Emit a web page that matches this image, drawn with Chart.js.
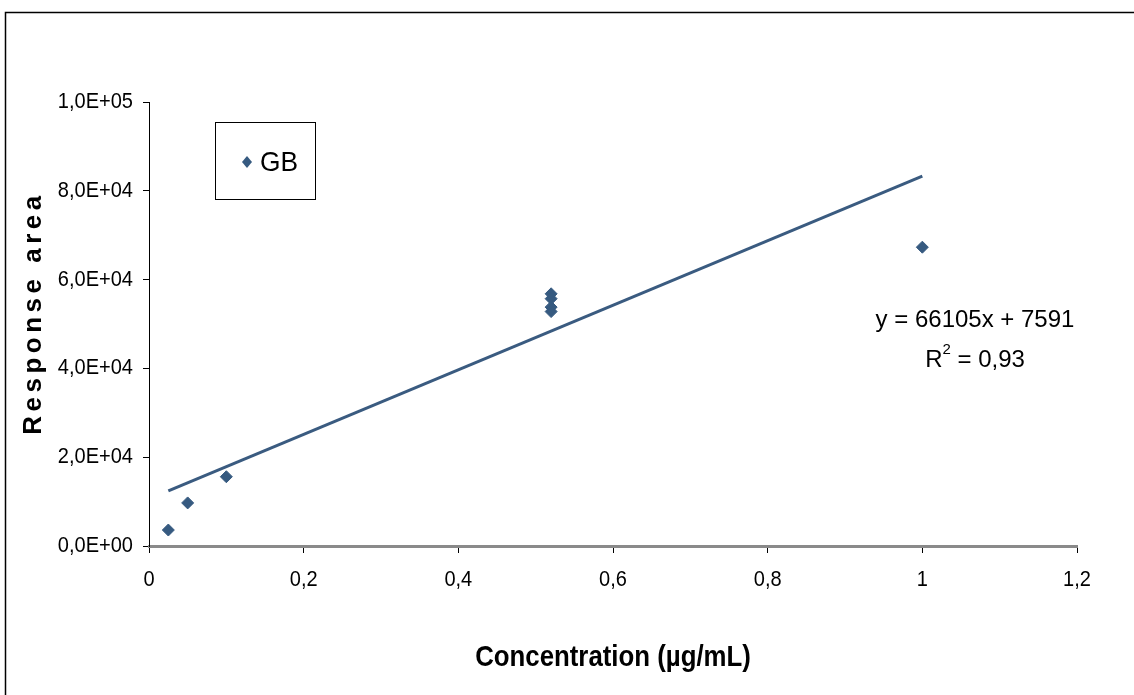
<!DOCTYPE html>
<html><head><meta charset="utf-8">
<script src="https://cdn.jsdelivr.net/npm/chart.js@4.4.1/dist/chart.umd.min.js"></script>
<style>html,body{margin:0;padding:0;background:#fff;overflow:hidden}
#wrap{width:1134px;height:695px;position:relative}</style>
</head><body><div id="wrap"><canvas id="c" width="1134" height="695"></canvas></div>
<script>
const concentration = [0.025, 0.05, 0.1, 0.52, 0.52, 0.52, 0.52, 1.0];
const responseArea = [3600, 9700, 15600, 56800, 55700, 53800, 52800, 67300];
const trendX = [0.025, 1.0];
const trendY = [12400, 83300];
const xTickLabels = ['0', '0,2', '0,4', '0,6', '0,8', '1', '1,2'];
const yTickLabels = ['0,0E+00', '2,0E+04', '4,0E+04', '6,0E+04', '8,0E+04', '1,0E+05'];
const seriesName = 'GB';
const equationText = 'y = 66105x + 7591';
const r2Value = '0,93';
const xTitle = 'Concentration (µg/mL)';
const yTitle = 'Response area';

const FONT = "'Liberation Sans', Arial, sans-serif";
const MARK = '#365a80';

// Arial-Narrow-like look: condense text horizontally about its anchor point
const condense = { '22px': 0.91, '30px': 0.86, '28px': 0.94 };
const origFill = CanvasRenderingContext2D.prototype.fillText;
CanvasRenderingContext2D.prototype.fillText = function (t, x, y, mw) {
  const m = /(\d+)px/.exec(this.font);
  const f = m && condense[m[1] + 'px'] ? condense[m[1] + 'px'] : 1;
  if (f === 1) return mw === undefined ? origFill.call(this, t, x, y) : origFill.call(this, t, x, y, mw);
  this.save(); this.translate(x, y); this.scale(f, 1);
  if (mw === undefined) origFill.call(this, t, 0, 0); else origFill.call(this, t, 0, 0, mw / f);
  this.restore();
};

const overlay = {
  id: 'overlay',
  afterDraw(chart) {
    const ctx = chart.ctx;
    ctx.save();
    // outer frame
    ctx.strokeStyle = '#000'; ctx.lineWidth = 1.5;
    ctx.beginPath(); ctx.moveTo(5.5, 695); ctx.lineTo(5.5, 12.5); ctx.lineTo(1134, 12.5); ctx.stroke();
    // legend
    ctx.lineWidth = 1;
    ctx.strokeRect(215.5, 122.5, 100, 77);
    ctx.fillStyle = MARK;
    ctx.beginPath();
    ctx.moveTo(247, 156); ctx.lineTo(252, 162); ctx.lineTo(247, 168); ctx.lineTo(242, 162); ctx.closePath();
    ctx.fill();
    ctx.fillStyle = '#000';
    ctx.font = "28px " + FONT; ctx.textBaseline = 'middle'; ctx.textAlign = 'left';
    ctx.fillText(seriesName, 260, 163);
    // trendline equation
    ctx.font = "24px " + FONT; ctx.textAlign = 'center';
    ctx.fillText(equationText, 975, 320);
    const rest = ' = ' + r2Value;
    const wR = ctx.measureText('R').width, wRest = ctx.measureText(rest).width;
    ctx.font = "15px " + FONT; const w2 = ctx.measureText('2').width;
    const total = wR + w2 + wRest; const x0 = 975 - total / 2;
    ctx.textAlign = 'left';
    ctx.font = "24px " + FONT; ctx.fillText('R', x0, 360);
    ctx.font = "15px " + FONT; ctx.fillText('2', x0 + wR, 350);
    ctx.font = "24px " + FONT; ctx.fillText(rest, x0 + wR + w2, 360);
    // y axis title
    ctx.translate(34, 315); ctx.rotate(-Math.PI / 2);
    ctx.font = "bold 26px " + FONT; ctx.textAlign = 'center';
    ctx.letterSpacing = '4.5px';
    ctx.fillText(yTitle, 2, 0);
    ctx.restore();
  }
};

new Chart(document.getElementById('c'), {
  type: 'scatter',
  data: {
    datasets: [
      { label: seriesName, data: concentration.map((x, i) => ({x, y: responseArea[i]})),
        pointStyle: 'rectRot', pointRadius: 6, pointHoverRadius: 6,
        backgroundColor: MARK, borderColor: MARK, borderWidth: 1, order: 1 },
      { label: 'trend', data: trendX.map((x, i) => ({x, y: trendY[i]})),
        showLine: true, pointRadius: 0, borderColor: '#3a5b80', borderWidth: 3, fill: false, order: 2 }
    ]
  },
  options: {
    responsive: false, animation: false, devicePixelRatio: 1,
    layout: { padding: { top: 102, right: 57, left: 0, bottom: 0 } },
    plugins: { legend: { display: false }, tooltip: { enabled: false } },
    scales: {
      x: {
        type: 'linear', min: 0, max: 1.2,
        afterFit: s => { s.height = 149; },
        ticks: { stepSize: 0.2, autoSkip: false, maxRotation: 0, padding: 14, color: '#000',
          font: { family: FONT, size: 22 }, callback: (v, i) => xTickLabels[i] },
        grid: { drawOnChartArea: false, drawTicks: true, tickLength: 7, color: '#000', lineWidth: 1 },
        border: { display: true, color: '#8a8a8a', width: 3 },
        title: { display: true, text: xTitle, color: '#000', padding: { top: 0, bottom: 19 },
          font: { family: FONT, size: 30, weight: 'bold' } }
      },
      y: {
        min: 0, max: 100000,
        afterFit: s => { s.width = 149; },
        ticks: { stepSize: 20000, padding: 10, color: '#000',
          font: { family: FONT, size: 22 }, callback: (v, i) => yTickLabels[i] },
        grid: { drawOnChartArea: false, drawTicks: true, tickLength: 6, color: '#000', lineWidth: 1 },
        border: { display: true, color: '#000', width: 1 }
      }
    }
  },
  plugins: [overlay]
});
</script></body></html>
